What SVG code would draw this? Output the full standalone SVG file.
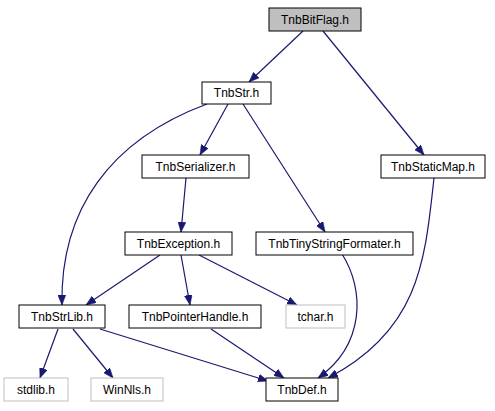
<svg xmlns="http://www.w3.org/2000/svg" width="495" height="411" viewBox="0 0 495 411">
<style>
.n rect{fill:#ffffff;stroke:#000000;stroke-width:1}
.n.g rect{fill:#bfbfbf}
.n.m rect{stroke:#bfbfbf}
.n text{font-family:"Liberation Sans",Arial,sans-serif;font-size:12px;text-anchor:middle;fill:#000000}
.e path{fill:none;stroke:#191970;stroke-width:1.2;marker-end:url(#ah)}
</style>
<defs>
<marker id="ah" viewBox="0 0 10 8" refX="10" refY="4" markerWidth="10" markerHeight="8" markerUnits="userSpaceOnUse" orient="auto">
<path d="M0,0 L10,4 L0,8 z" fill="#191970" stroke="#191970" stroke-width="0.5"/>
</marker>
</defs>
<rect width="495" height="411" fill="#ffffff"/>
<g id="edges" class="e">
<path d="M303,31 L249,82"/>
<path d="M323,31 L424,155"/>
<path d="M228,104 L200,155"/>
<path d="M207,104 C110,140 60,210 62,305"/>
<path d="M243,104 L325,232"/>
<path d="M186,178 L181,232"/>
<path d="M160,255 L86,305"/>
<path d="M181,255 L190,305"/>
<path d="M199,255 L297,305"/>
<path d="M58,329 L40,378"/>
<path d="M73,329 L113,378"/>
<path d="M100,329 L268,381"/>
<path d="M211,329 L284,378"/>
<path d="M342,254 C365,290 365,345 318,378"/>
<path d="M434,178 C425,260 420,330 328,378"/>
</g>
<g id="TnbBitFlag" class="n g"><rect x="269" y="8" width="92" height="23"/><text x="315" y="24">TnbBitFlag.h</text></g>
<g id="TnbStr" class="n"><rect x="202" y="82" width="69" height="22"/><text x="236.5" y="97">TnbStr.h</text></g>
<g id="TnbSerializer" class="n"><rect x="142" y="155" width="107" height="23"/><text x="195.5" y="171">TnbSerializer.h</text></g>
<g id="TnbStaticMap" class="n"><rect x="381" y="155" width="104" height="23"/><text x="433" y="171">TnbStaticMap.h</text></g>
<g id="TnbException" class="n"><rect x="125" y="232" width="107" height="23"/><text x="178.5" y="248">TnbException.h</text></g>
<g id="TnbTinyStringFormater" class="n"><rect x="256" y="232" width="157" height="23"/><text x="334.5" y="248">TnbTinyStringFormater.h</text></g>
<g id="TnbStrLib" class="n"><rect x="19" y="305" width="86" height="23"/><text x="62" y="321">TnbStrLib.h</text></g>
<g id="TnbPointerHandle" class="n"><rect x="129" y="305" width="132" height="23"/><text x="195" y="321">TnbPointerHandle.h</text></g>
<g id="tchar" class="n m"><rect x="286" y="305" width="59" height="23"/><text x="315.5" y="321">tchar.h</text></g>
<g id="stdlib" class="n m"><rect x="4" y="378" width="64" height="23"/><text x="36" y="394">stdlib.h</text></g>
<g id="WinNls" class="n m"><rect x="91" y="378" width="72" height="23"/><text x="127" y="394">WinNls.h</text></g>
<g id="TnbDef" class="n"><rect x="266" y="378" width="72" height="23"/><text x="302" y="394">TnbDef.h</text></g>
</svg>
